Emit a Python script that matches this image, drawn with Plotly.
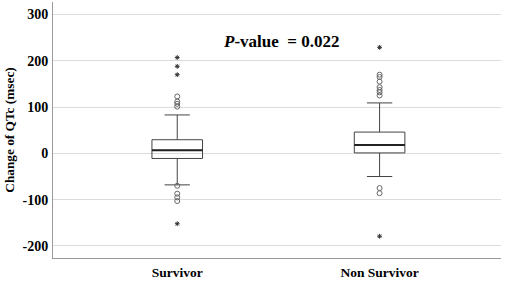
import plotly.graph_objects as go

categories = ["Survivor", "Non Survivor"]
q1 = [-11, 1]
median = [6.5, 18]
q3 = [29.5, 46]
lower_whisker = [-68, -50]
upper_whisker = [83, 109]
mild_outliers = [
    [123, 112, 107, 101, -70, -87, -95, -103],
    [170, 165, 155, 143, 137, 132, 125, -75, -86],
]
extreme_outliers = [
    [207, 188, 170, -152],
    [229, -179],
]
y_ticks = [-200, -100, 0, 100, 200, 300]
p_text = "<b><i>P</i>-value  = 0.022</b>"

FONT = "Liberation Serif, Times New Roman, serif"
BOX_W = 0.25
xs = list(range(len(categories)))

fig = go.Figure()
fig.add_trace(go.Box(
    x=xs, q1=q1, median=median, q3=q3,
    lowerfence=lower_whisker, upperfence=upper_whisker,
    boxpoints=False, width=BOX_W, whiskerwidth=0.5,
    fillcolor="rgba(255,255,255,0)",
    line=dict(color="#444444", width=1),
    showlegend=False, hoverinfo="skip",
))
for i in xs:
    fig.add_trace(go.Scatter(
        x=[i] * len(mild_outliers[i]), y=mild_outliers[i], mode="markers",
        marker=dict(symbol="circle-open", size=5, color="#666666", line=dict(width=1)),
        showlegend=False,
    ))
    fig.add_trace(go.Scatter(
        x=[i] * len(extreme_outliers[i]), y=extreme_outliers[i], mode="markers",
        marker=dict(symbol="asterisk-open", size=4, color="#333333", line=dict(width=1)),
        showlegend=False,
    ))
    fig.add_shape(type="line", x0=i - BOX_W / 2, x1=i + BOX_W / 2,
                  y0=median[i], y1=median[i],
                  line=dict(color="#222222", width=2))

fig.add_annotation(x=0.51, y=0.892, xref="paper", yref="paper", text=p_text,
                   showarrow=False, font=dict(family=FONT, size=17, color="black"))

fig.update_layout(
    width=505, height=283,
    margin=dict(l=53, r=4, t=2, b=25),
    plot_bgcolor="white", paper_bgcolor="white",
    font=dict(family=FONT, color="black"),
)
fig.update_xaxes(
    range=[-0.614, 1.6], tickvals=xs, ticktext=[f"<b>{c}</b>" for c in categories],
    tickfont=dict(family=FONT, size=13.5), showgrid=False, zeroline=False,
    showline=True, linecolor="#9a9a9a", linewidth=1,
    ticks="outside", ticklen=2, tickcolor="white", automargin=False,
)
fig.update_yaxes(
    range=[-226, 327], tickvals=y_ticks, ticktext=[f"<b>{v}</b>" for v in y_ticks],
    tickfont=dict(family=FONT, size=14), showgrid=True, gridcolor="#dcdcdc", gridwidth=1,
    zeroline=False, showline=True, linecolor="#9a9a9a", linewidth=1,
    ticks="outside", ticklen=1, tickcolor="white", automargin=False,
    title=dict(text="<b>Change of QTc (msec)</b>", font=dict(family=FONT, size=13.3), standoff=4),
)
fig.write_html("out.html", config={"displayModeBar": False},
               post_script="document.body.style.margin='0';document.body.style.overflow='hidden';")
